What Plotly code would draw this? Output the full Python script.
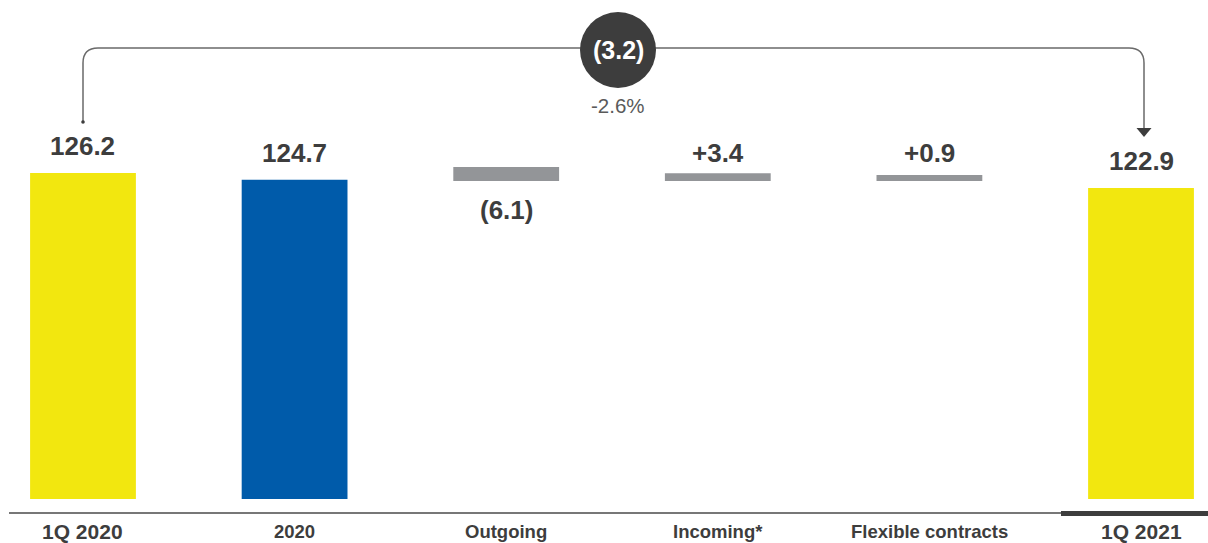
import plotly.graph_objects as go

# ---------------- data ----------------
categories = ["1Q 2020", "2020", "Outgoing", "Incoming*", "Flexible contracts", "1Q 2021"]
total_values = [126.2, 124.7, None, None, None, 122.9]
delta_values = [None, None, -6.1, 3.4, 0.9, None]
value_labels = ["126.2", "124.7", "(6.1)", "+3.4", "+0.9", "122.9"]
change_value = -3.2
change_pct = -2.6

# ---------------- styling ----------------
W, H = 1208, 543
YELLOW = "#F2E70F"
BLUE = "#005BAA"
GREY = "#939598"
DARK = "#3D3D3D"
FONT = "Liberation Sans, Arial, Helvetica, sans-serif"

total_colors = [YELLOW, BLUE, None, None, None, YELLOW]

# axis geometry (pixel mapping)
X_RANGE = [-0.3922, 5.3166]
Y_RANGE = [44.79, 164.26]
Y_BASE = 54.47          # visual floor of the bars
DELTA_SCALE = 0.5       # stylised scale of change markers
DELTA_MIN = 1.3


def py(p):
    """pixel y -> paper y"""
    return 1 - p / H


def pxp(p):
    """pixel x -> paper x"""
    return p / W


fig = go.Figure()

# total bars
tx, ty, tc = [], [], []
for i, v in enumerate(total_values):
    if v is not None:
        tx.append(i)
        ty.append(v - Y_BASE)
        tc.append(total_colors[i])
fig.add_trace(go.Bar(x=tx, y=ty, base=Y_BASE, width=0.5, marker=dict(color=tc, line=dict(width=0)),
                     hoverinfo="skip"))

# change bars (stylised, anchored at the 2020 level)
anchor = total_values[1]
dx, dy = [], []
for i, v in enumerate(delta_values):
    if v is not None:
        dx.append(i)
        dy.append(max(abs(v) * DELTA_SCALE, DELTA_MIN))
fig.add_trace(go.Bar(x=dx, y=dy, base=anchor - 0.25, width=0.5, marker=dict(color=GREY, line=dict(width=0)),
                     hoverinfo="skip"))

annotations = []
# value labels
for i, lab in enumerate(value_labels):
    if total_values[i] is not None:
        y, shift = total_values[i], 27
    else:
        y = anchor
        shift = 27 if delta_values[i] > 0 else -30
    annotations.append(dict(x=i, y=y, xref="x", yref="y", yshift=shift, text=f"<b>{lab}</b>",
                            showarrow=False, font=dict(family=FONT, size=26, color=DARK),
                            xanchor="center", yanchor="middle"))

# category labels
for i, c in enumerate(categories):
    big = c.startswith("1Q")
    annotations.append(dict(x=i, y=py(531), xref="x", yref="paper", text=f"<b>{c}</b>",
                            showarrow=False, font=dict(family=FONT, size=21 if big else 18.5, color=DARK),
                            xanchor="center", yanchor="middle"))

# change bubble
cx, cy, r = 618, 50, 38
annotations.append(dict(x=pxp(cx), y=py(cy), xref="paper", yref="paper",
                        text=f"<b>({abs(change_value):.1f})</b>", showarrow=False,
                        font=dict(family=FONT, size=25, color="white"), xanchor="center", yanchor="middle"))
annotations.append(dict(x=pxp(cx), y=py(106), xref="paper", yref="paper",
                        text=f"{change_pct:.1f}%", showarrow=False,
                        font=dict(family=FONT, size=20.5, color="#5a5a5a"), xanchor="center", yanchor="middle"))

shapes = []
# connector line with rounded corners
x0p, x1p = 83, 1144
ytop, rad = 48, 15
path = (f"M {pxp(x0p)},{py(122)} L {pxp(x0p)},{py(ytop + rad)} "
        f"Q {pxp(x0p)},{py(ytop)} {pxp(x0p + rad)},{py(ytop)} "
        f"L {pxp(x1p - rad)},{py(ytop)} "
        f"Q {pxp(x1p)},{py(ytop)} {pxp(x1p)},{py(ytop + rad)} "
        f"L {pxp(x1p)},{py(129)}")
shapes.append(dict(type="path", path=path, xref="paper", yref="paper",
                   line=dict(color="#6a6a6a", width=1.5)))
# start dot
shapes.append(dict(type="circle", xref="paper", yref="paper",
                   x0=pxp(x0p - 1.8), x1=pxp(x0p + 1.8), y0=py(123.8), y1=py(120.2),
                   fillcolor=DARK, line=dict(width=0)))
# arrow head
shapes.append(dict(type="path", xref="paper", yref="paper",
                   path=f"M {pxp(x1p - 7.5)},{py(128)} L {pxp(x1p + 7.5)},{py(128)} L {pxp(x1p)},{py(137)} Z",
                   fillcolor=DARK, line=dict(width=0)))
# bubble
shapes.append(dict(type="circle", xref="paper", yref="paper",
                   x0=pxp(cx - r), x1=pxp(cx + r), y0=py(cy + r), y1=py(cy - r),
                   fillcolor=DARK, line=dict(width=0)))
# baseline
shapes.append(dict(type="line", xref="paper", yref="paper", x0=pxp(9), x1=1, y0=py(513), y1=py(513),
                   line=dict(color="#4a4a4a", width=1.5)))
# emphasis under last category
shapes.append(dict(type="rect", xref="paper", yref="paper", x0=pxp(1061), x1=1, y0=py(516), y1=py(511),
                   fillcolor=DARK, line=dict(width=0)))

fig.update_layout(
    width=W, height=H,
    margin=dict(l=0, r=0, t=0, b=0),
    paper_bgcolor="white", plot_bgcolor="white",
    showlegend=False,
    barmode="overlay",
    xaxis=dict(range=X_RANGE, visible=False, fixedrange=True),
    yaxis=dict(range=Y_RANGE, visible=False, fixedrange=True),
    annotations=annotations,
    shapes=shapes,
)

fig.write_html("out.html")
